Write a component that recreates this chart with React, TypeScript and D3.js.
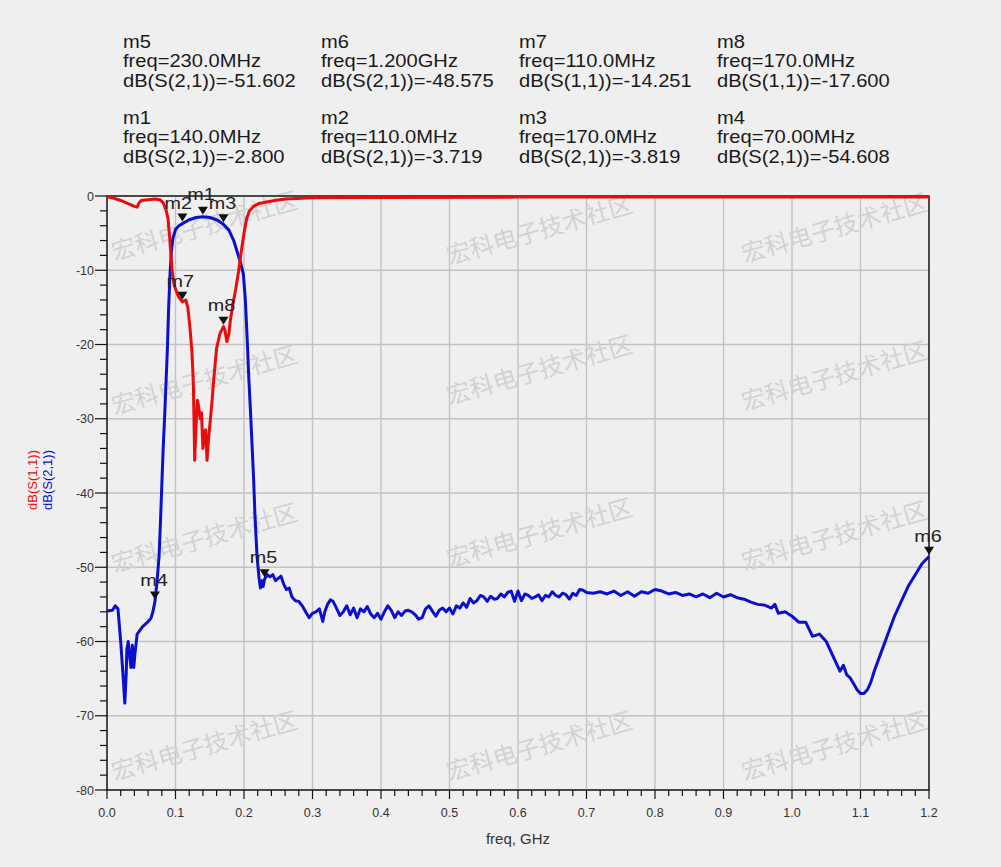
import React from "react";
import * as d3 from "d3";

// ---------- data ----------
const s21Freq = [
  0.000, 0.008, 0.012, 0.016, 0.020, 0.023, 0.026, 0.028, 0.029, 0.031, 0.033, 0.035, 0.037, 0.039, 0.041,
  0.044, 0.048, 0.052, 0.058, 0.064, 0.067, 0.070, 0.073, 0.076, 0.078, 0.080, 0.082, 0.084, 0.086, 0.088,
  0.090, 0.092, 0.094, 0.096, 0.100, 0.105, 0.110, 0.120, 0.130, 0.140, 0.150, 0.160, 0.170, 0.178, 0.185,
  0.190, 0.195, 0.199, 0.202, 0.205, 0.207, 0.210, 0.212, 0.214, 0.216, 0.219, 0.222, 0.224, 0.226, 0.228,
  0.230, 0.234, 0.238, 0.242, 0.246, 0.250, 0.254, 0.258, 0.262, 0.266, 0.270, 0.275, 0.280, 0.285, 0.290,
  0.295, 0.300, 0.305, 0.310, 0.315, 0.318, 0.322, 0.326, 0.330, 0.335, 0.340, 0.345, 0.350, 0.355, 0.360,
  0.365, 0.370, 0.375, 0.380, 0.385, 0.390, 0.395, 0.400, 0.405, 0.410, 0.415, 0.420, 0.425, 0.430, 0.435,
  0.440, 0.445, 0.450, 0.455, 0.460, 0.465, 0.470, 0.475, 0.480, 0.485, 0.490, 0.495, 0.500, 0.505, 0.510,
  0.515, 0.520, 0.525, 0.530, 0.535, 0.540, 0.545, 0.550, 0.555, 0.560, 0.565, 0.570, 0.575, 0.580, 0.585,
  0.590, 0.595, 0.600, 0.605, 0.610, 0.615, 0.620, 0.625, 0.630, 0.635, 0.640, 0.645, 0.650, 0.655, 0.660,
  0.665, 0.670, 0.675, 0.680, 0.685, 0.690, 0.695, 0.700, 0.710, 0.720, 0.730, 0.740, 0.750, 0.760, 0.770,
  0.780, 0.790, 0.800, 0.810, 0.820, 0.830, 0.840, 0.850, 0.860, 0.870, 0.880, 0.890, 0.900, 0.910, 0.920,
  0.930, 0.940, 0.950, 0.960, 0.970, 0.975, 0.980, 0.990, 1.000, 1.010, 1.020, 1.030, 1.040, 1.050, 1.060,
  1.070, 1.075, 1.080, 1.085, 1.090, 1.095, 1.100, 1.105, 1.110, 1.115, 1.120, 1.130, 1.140, 1.150, 1.160,
  1.170, 1.180, 1.190, 1.200,
];
const s21Db = [
  -55.9, -55.8, -55.2, -55.6, -60.0, -64.0, -68.3, -64.5, -61.0, -60.0, -62.0, -63.5, -60.5, -63.5, -61.5,
  -59.0, -58.5, -58.0, -57.5, -56.9, -56.0, -54.6, -52.0, -48.5, -44.0, -39.0, -34.0, -30.0, -25.5, -21.0,
  -15.0, -10.5, -7.5, -5.8, -4.5, -4.0, -3.72, -3.2, -2.9, -2.8, -2.9, -3.2, -3.82, -4.6, -6.0,
  -7.5, -9.0, -10.5, -14.0, -20.0, -24.5, -30.0, -34.0, -38.0, -43.0, -48.5, -51.5, -52.8, -51.8, -52.6,
  -51.6, -51.0, -51.3, -51.0, -51.8, -51.5, -51.2, -52.3, -53.0, -52.8, -54.0, -54.5, -54.6, -55.2, -56.0,
  -56.8, -56.2, -56.0, -55.6, -57.3, -56.0, -55.0, -54.4, -54.6, -55.5, -56.5, -56.0, -55.2, -56.4, -55.5,
  -56.8, -55.6, -56.0, -55.3, -56.3, -56.8, -56.2, -57.0, -56.0, -55.2, -55.8, -56.8, -56.0, -56.5, -55.9,
  -55.8, -56.0, -56.4, -57.0, -56.8, -55.6, -55.2, -55.9, -56.6, -55.8, -55.5, -56.0, -55.5, -56.3, -55.2,
  -55.5, -54.8, -55.4, -54.2, -54.8, -54.5, -53.8, -54.0, -54.6, -53.9, -54.3, -54.2, -53.6, -54.0, -53.4,
  -53.2, -54.6, -53.2, -54.5, -53.6, -53.8, -54.2, -54.0, -53.7, -54.5, -53.8, -54.0, -53.3, -53.8, -54.0,
  -53.5, -53.7, -54.3, -53.5, -53.8, -53.0, -53.1, -53.4, -53.5, -53.3, -53.6, -53.2, -53.8, -53.3, -53.9,
  -53.3, -53.5, -53.0, -53.2, -53.6, -53.4, -53.8, -53.6, -54.0, -53.6, -54.1, -53.5, -54.0, -53.7, -54.1,
  -54.3, -54.7, -55.0, -55.1, -55.5, -55.0, -56.2, -56.0, -56.6, -57.4, -57.4, -59.3, -59.0, -60.0, -62.0,
  -64.0, -63.2, -64.5, -64.9, -65.7, -66.5, -67.0, -67.0, -66.5, -65.5, -64.0, -61.5, -59.0, -56.5, -54.5,
  -52.5, -51.0, -49.5, -48.575,
];

const s11Freq = [
  0.000, 0.010, 0.020, 0.030, 0.040, 0.044, 0.047, 0.050, 0.060, 0.070, 0.077, 0.082, 0.086, 0.089, 0.091,
  0.093, 0.095, 0.098, 0.104, 0.110, 0.115, 0.118, 0.121, 0.124, 0.126, 0.127, 0.128, 0.130, 0.132, 0.134,
  0.136, 0.138, 0.140, 0.142, 0.144, 0.146, 0.148, 0.150, 0.153, 0.156, 0.160, 0.165, 0.170, 0.172, 0.175,
  0.178, 0.180, 0.184, 0.188, 0.192, 0.196, 0.200, 0.204, 0.208, 0.214, 0.222, 0.233, 0.245, 0.260, 0.300,
  0.400, 0.600, 0.800, 1.000, 1.200,
];
const s11Db = [
  -0.1, -0.3, -0.6, -1.0, -1.4, -1.5, -0.9, -0.6, -0.5, -0.4, -0.5, -0.9, -1.8, -3.0, -5.0,
  -7.5, -10.0, -12.0, -13.5, -14.251, -14.0, -15.0, -17.6, -21.0, -25.0, -30.0, -35.6, -31.0, -27.5, -28.5,
  -30.0, -29.2, -34.0, -32.0, -31.5, -35.6, -33.0, -31.0, -28.0, -24.5, -20.5, -18.5, -17.6, -18.0, -19.6,
  -18.5, -16.8, -14.5, -12.5, -10.2, -7.5, -5.0, -3.0, -2.0, -1.4, -1.0, -0.8, -0.6, -0.4, -0.25,
  -0.2, -0.15, -0.15, -0.15, -0.15,
];

const markerNames = ["m5", "m6", "m7", "m8", "m1", "m2", "m3", "m4"];
const markerFreqLabels = ["230.0MHz", "1.200GHz", "110.0MHz", "170.0MHz", "140.0MHz", "110.0MHz", "170.0MHz", "70.00MHz"];
const markerTraces = ["S(2,1)", "S(2,1)", "S(1,1)", "S(1,1)", "S(2,1)", "S(2,1)", "S(2,1)", "S(2,1)"];
const markerFreqs = [0.23, 1.2, 0.11, 0.17, 0.14, 0.11, 0.17, 0.07];
const markerValues = [-51.602, -48.575, -14.251, -17.6, -2.8, -3.719, -3.819, -54.608];

const xTicks = [0.0, 0.1, 0.2, 0.3, 0.4, 0.5, 0.6, 0.7, 0.8, 0.9, 1.0, 1.1, 1.2];
const yTicks = [0, -10, -20, -30, -40, -50, -60, -70, -80];
const watermarkText = "宏科电子技术社区";

// ---------- layout ----------
const W = 1001;
const H = 867;
const L = 107, R = 929, T = 196, B = 790;
const markerLabelDx: Record<string, number> = { m1: -2, m2: -4, m3: -1, m4: -1, m5: -1, m6: -1, m7: -2, m8: -2 };
const markerLabelDy: Record<string, number> = { m1: -17, m2: -15, m3: -15, m4: -15, m5: -16, m6: -15, m7: -15, m8: -16 };
const headerCols = [123, 321, 519, 717];
const headerBlockY = [48, 124];
const wmCols = [205, 540, 835];
const wmRows = [[228, 232, 230], [382, 372, 378], [540, 535, 538], [748, 748, 748]];

const RED = "#e80c0c";
const BLUE = "#0c10cc";

export default function App() {
  const x = d3.scaleLinear().domain([0, 1.2]).range([L, R]);
  const y = d3.scaleLinear().domain([-80, 0]).range([B, T]);

  const line = d3
    .line<[number, number]>()
    .x((d) => x(d[0]))
    .y((d) => y(d[1]));

  const s21Pts = s21Freq.map((f, i) => [f, s21Db[i]] as [number, number]);
  const s11Pts = s11Freq.map((f, i) => [f, s11Db[i]] as [number, number]);

  const xMinor = d3.range(0, 61).map((i) => i * 0.02);
  const yMinor = d3.range(0, 41).map((i) => -i * 2);

  const font = "'Liberation Sans', Arial, sans-serif";

  return (
    <svg
      width={W}
      height={H}
      style={{ position: "absolute", left: 0, top: 0 }}
      xmlns="http://www.w3.org/2000/svg"
    >
      <rect x={0} y={0} width={W} height={H} fill="#efefef" />

      {/* header marker readouts */}
      {markerNames.map((name, i) => {
        const col = headerCols[i % 4];
        const by = headerBlockY[Math.floor(i / 4)];
        const lines = [name, `freq=${markerFreqLabels[i]}`, `dB(${markerTraces[i]})=${markerValues[i].toFixed(3)}`];
        return (
          <g key={name} transform={`translate(${col},0) scale(1.15,1)`}>
            {lines.map((t, k) => (
              <text key={k} x={0} y={by + k * 19.5} fontFamily={font} fontSize={17.5} fill="#1a1a1a">
                {t}
              </text>
            ))}
          </g>
        );
      })}

      {/* grid */}
      {xTicks.map((t) => (
        <line key={"gx" + t} x1={x(t)} x2={x(t)} y1={T} y2={B} stroke="#c2c2c2" strokeWidth={1.4} />
      ))}
      {yTicks.map((t) => (
        <line key={"gy" + t} x1={L} x2={R} y1={y(t)} y2={y(t)} stroke="#c2c2c2" strokeWidth={1.4} />
      ))}

      {/* watermark */}
      {wmRows.map((row, r) =>
        wmCols.map((cx, c) => (
          <text
            key={`wm${r}-${c}`}
            x={0}
            y={0}
            transform={`translate(${cx},${row[c]}) rotate(-16)`}
            textAnchor="middle"
            dominantBaseline="middle"
            fontFamily="'Noto Sans CJK SC', sans-serif"
            fontSize={24}
            fill="#d2d2d2"
          >
            {watermarkText}
          </text>
        ))
      )}

      {/* ticks */}
      {yMinor.map((t) => (
        <line
          key={"ty" + t}
          x1={t % 10 === 0 ? L - 12 : L - 7}
          x2={L}
          y1={y(t)}
          y2={y(t)}
          stroke="#111"
          strokeWidth={1.2}
        />
      ))}
      {xMinor.map((t, i) => (
        <line
          key={"tx" + i}
          x1={x(t)}
          x2={x(t)}
          y1={B}
          y2={i % 5 === 0 ? B + 9 : B + 6}
          stroke="#111"
          strokeWidth={1.2}
        />
      ))}
      {yTicks.map((t) => (
        <text key={"ly" + t} x={L - 13} y={y(t) + 4.5} textAnchor="end" fontFamily={font} fontSize={12.5} fill="#333">
          {t}
        </text>
      ))}
      {xTicks.map((t) => (
        <text key={"lx" + t} x={x(t)} y={B + 27} textAnchor="middle" fontFamily={font} fontSize={12.5} fill="#333">
          {t.toFixed(1)}
        </text>
      ))}
      <text x={(L + R) / 2} y={844} textAnchor="middle" fontFamily={font} fontSize={15} fill="#333">
        freq, GHz
      </text>
      <g transform={`translate(37,${480}) rotate(-90)`}>
        <text x={0} y={0} textAnchor="middle" fontFamily={font} fontSize={13} fill={RED}>
          dB(S(1,1))
        </text>
      </g>
      <g transform={`translate(52,${480}) rotate(-90)`}>
        <text x={0} y={0} textAnchor="middle" fontFamily={font} fontSize={13} fill={BLUE}>
          dB(S(2,1))
        </text>
      </g>

      {/* frame */}
      <rect x={L} y={T} width={R - L} height={B - T} fill="none" stroke="#111" strokeWidth={1.4} />

      {/* traces */}
      <path d={line(s21Pts) || ""} fill="none" stroke={BLUE} strokeWidth={3} strokeLinejoin="round" />
      <path d={line(s11Pts) || ""} fill="none" stroke={RED} strokeWidth={3} strokeLinejoin="round" />

      {/* markers */}
      {markerNames.map((name, i) => {
        const px = x(markerFreqs[i]);
        const py = y(markerValues[i]) - 2;
        return (
          <g key={"mk" + name}>
            <path d={`M${px - 5},${py - 8} L${px + 5},${py - 8} L${px},${py} Z`} fill="#111" />
            <g transform={`translate(${px + markerLabelDx[name]},${py + markerLabelDy[name] + 2}) scale(1.2,1)`}>
              <text x={0} y={0} textAnchor="middle" fontFamily={font} fontSize={16.5} fill="#222">
                {name}
              </text>
            </g>
          </g>
        );
      })}
    </svg>
  );
}
